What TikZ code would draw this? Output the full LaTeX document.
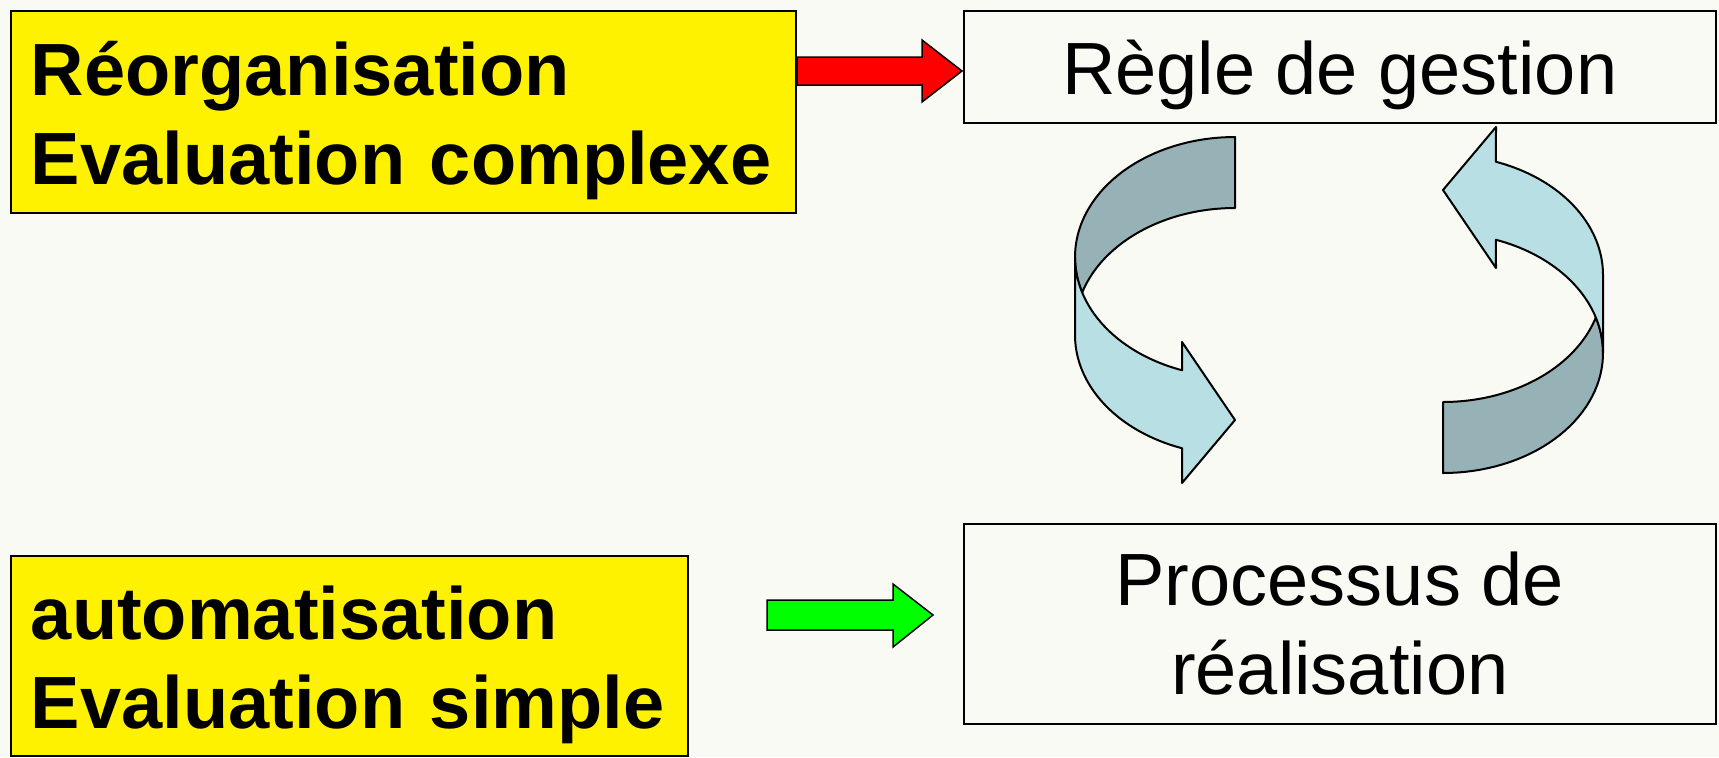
\documentclass[tikz,border=0pt]{standalone}
\usepackage{fontspec}
\setmainfont{Liberation Sans}
\usetikzlibrary{positioning}

\definecolor{paper}{HTML}{FAFAF5}
\definecolor{backband}{HTML}{96B2B6}
\definecolor{frontband}{HTML}{B8E0E4}
\definecolor{flashgreen}{HTML}{00FF00}

\tikzset{
	yellowbox/.style={draw, line width=1pt, fill=yellow, anchor=north west, inner xsep=10pt, inner ysep=0pt, align=left, font=\fontsize{37}{44.5}\selectfont\bfseries, execute at begin node={\rule{0pt}{36pt}}},
	whitebox/.style={draw, line width=0.75pt, anchor=north west, inner sep=0pt, align=center, font=\fontsize{37}{44.5}\selectfont},
	blockarrow/.style={draw, line width=0.75pt, line join=miter},
	band/.style={draw, line width=1pt, line join=round},
}

\begin{document}
\begin{tikzpicture}[x=0.5pt, y=-0.5pt]
	\fill[paper] (0,0) rectangle (1719,757);
	\useasboundingbox (0,0) rectangle (1719,757);

	\node[yellowbox, text width=372.5pt, minimum height=101pt] (reorg) at (10,10) {R\'eorganisation\\Evaluation~complexe};
	\node[whitebox, minimum width=376pt, minimum height=56pt, execute at begin node={\rule{0pt}{35.5pt}}] (regle) at (963,10) {R\`egle~de~gestion};
	\node[yellowbox, text width=318.5pt, minimum height=100pt] (auto) at (10,555) {automatisation\\Evaluation~simple};
	\node[whitebox, minimum width=376pt, minimum height=100pt] (process) at (963,523) {Processus de\\r\'ealisation};

	% block arrows
	\draw[blockarrow, fill=red] (797,57) -- (922,57) -- (922,40) -- (962,71) -- (922,102) -- (922,85) -- (797,85) -- cycle;
	\draw[blockarrow, fill=flashgreen] (767,600) -- (893,600) -- (893,584) -- (933,615) -- (893,647) -- (893,630) -- (767,630) -- cycle;

	% the two turning arrows, second one is the first turned half round
	\foreach \r in {0,180} {
		\begin{scope}[rotate around={\r:(1339,305)}]
			\draw[band, fill=backband] plot[domain=90:197.5, samples=40] ({1235+160*cos(\x)},{257-120*sin(\x)})
				-- plot[domain=163:90, samples=40] ({1235+160*cos(\x)},{328-120*sin(\x)}) -- cycle;
			\draw[band, fill=frontband] (1075,257) -- (1075,335)
				-- plot[domain=180:250.7, samples=40] ({1235+160*cos(\x)},{335-120*sin(\x)})
				-- (1182,483) -- (1235,420) -- (1182,342)
				-- plot[domain=250.7:180, samples=40] ({1235+160*cos(\x)},{257-120*sin(\x)}) -- cycle;
		\end{scope}
	}
\end{tikzpicture}
\end{document}
